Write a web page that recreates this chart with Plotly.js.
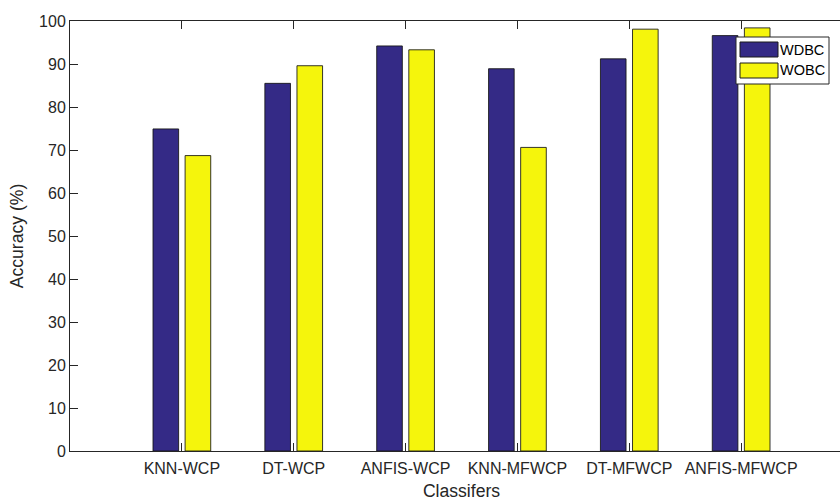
<!DOCTYPE html>
<html>
<head>
<meta charset="utf-8">
<script src="https://cdn.plot.ly/plotly-3.0.1.min.js"></script>
<style>
html, body { margin: 0; padding: 0; overflow: hidden; background: #fff; width: 840px; height: 501px; }
#chart { width: 880px; height: 501px; }
</style>
</head>
<body>
<div id="chart"></div>
<script>
const categories = ["KNN-WCP", "DT-WCP", "ANFIS-WCP", "KNN-MFWCP", "DT-MFWCP", "ANFIS-MFWCP"];
const seriesNames = ["WDBC", "WOBC"];
const wdbc = [74.9, 85.5, 94.2, 88.9, 91.2, 96.6];
const wobc = [68.7, 89.6, 93.3, 70.6, 98.1, 98.4];
const yTicks = [0, 10, 20, 30, 40, 50, 60, 70, 80, 90, 100];

const txt = '#262626';
const font = 'Liberation Sans, Arial, Helvetica, sans-serif';
const colors = ['#342a86', '#f5f50c'];
const edge = 'rgba(20,20,20,0.85)';

const traces = [
  {
    type: 'bar', name: seriesNames[0], x: categories, y: wdbc,
    width: 0.229, offset: -0.258, showlegend: false,
    marker: { color: colors[0], line: { color: edge, width: 1 } }
  },
  {
    type: 'bar', name: seriesNames[1], x: categories, y: wobc,
    width: 0.229, offset: 0.029, showlegend: false,
    marker: { color: colors[1], line: { color: edge, width: 1 } }
  }
];

// legend box drawn in paper coordinates (plot area: 783 x 430 px)
const px = v => (v - 70) / 783;
const py = v => (451 - v) / 430;
const shapes = [
  { type: 'rect', xref: 'paper', yref: 'paper', x0: px(736), x1: px(829), y0: py(84), y1: py(37),
    fillcolor: '#ffffff', line: { color: '#262626', width: 1 }, layer: 'above' }
];
const annotations = [];
const rowsY = [[42, 57], [63, 78]];
seriesNames.forEach((n, i) => {
  shapes.push({ type: 'rect', xref: 'paper', yref: 'paper', x0: px(740), x1: px(778),
    y0: py(rowsY[i][1]), y1: py(rowsY[i][0]),
    fillcolor: colors[i], line: { color: '#1a1a1a', width: 1 }, layer: 'above' });
  annotations.push({ xref: 'paper', yref: 'paper', x: px(779), y: py((rowsY[i][0] + rowsY[i][1]) / 2),
    xanchor: 'left', yanchor: 'middle', text: n, showarrow: false, borderpad: 0,
    font: { family: font, size: 14.5, color: '#000' } });
});

const layout = {
  width: 880, height: 501,
  margin: { l: 70, r: 27, t: 21, b: 50 },
  paper_bgcolor: '#ffffff', plot_bgcolor: '#ffffff',
  font: { family: font, size: 16, color: txt },
  barmode: 'overlay',
  showlegend: false,
  shapes: shapes,
  annotations: annotations,
  xaxis: {
    type: 'category', range: [-1, 6],
    showline: true, linecolor: txt, linewidth: 1, mirror: 'ticks',
    ticks: 'inside', ticklen: 8, tickcolor: txt,
    showgrid: false, zeroline: false,
    ticklabelstandoff: 3,
    tickfont: { family: font, size: 16, color: txt },
    title: { text: 'Classifers', font: { family: font, size: 17.6, color: txt }, standoff: 10 }
  },
  yaxis: {
    range: [0, 100], tickvals: yTicks,
    showline: true, linecolor: txt, linewidth: 1, mirror: 'ticks',
    ticks: 'inside', ticklen: 8, tickcolor: txt,
    showgrid: false, zeroline: false,
    tickfont: { family: font, size: 16, color: txt },
    title: { text: 'Accuracy (%)', font: { family: font, size: 17.6, color: txt }, standoff: 10 }
  }
};

Plotly.newPlot('chart', traces, layout, { displayModeBar: false, staticPlot: true });
</script>
</body>
</html>
